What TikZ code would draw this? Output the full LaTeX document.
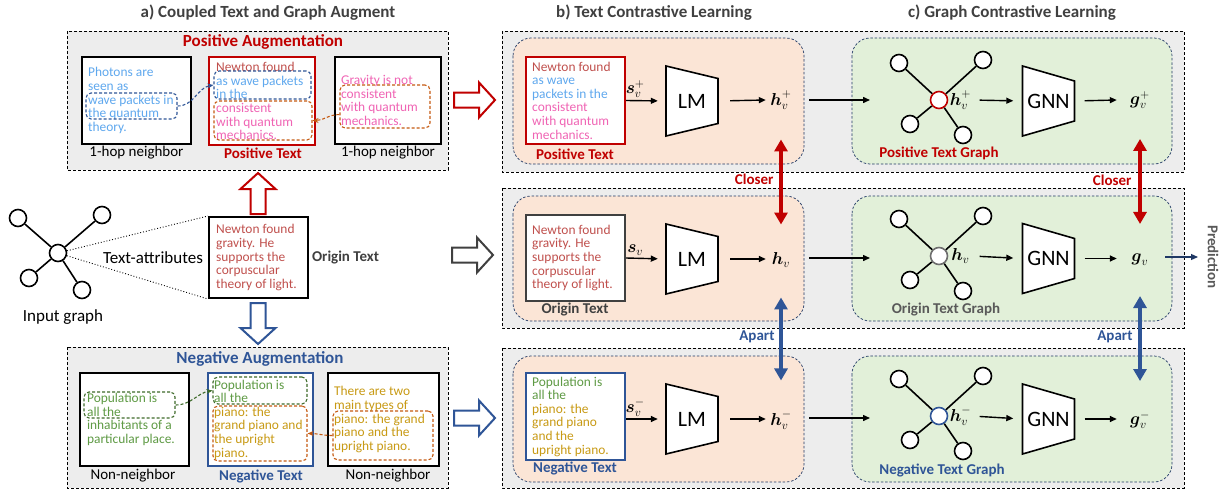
\documentclass[tikz,border=0pt]{standalone}
\usepackage{fontspec}
\setmainfont{Carlito}
\usepackage{amsmath}
\usetikzlibrary{arrows.meta}
\definecolor{cred}{HTML}{C00000}
\definecolor{cblue}{HTML}{2F5597}
\definecolor{cgray}{HTML}{404040}
\definecolor{cgray2}{HTML}{595959}
\definecolor{ngray}{HTML}{6E6E6E}
\definecolor{tbrown}{HTML}{C0504D}
\definecolor{tlblue}{HTML}{5FA8EE}
\definecolor{tpink}{HTML}{F064B4}
\definecolor{tgreen}{HTML}{5E9A44}
\definecolor{tgold}{HTML}{C89A14}
\definecolor{dgreen}{HTML}{3E6B2A}
\definecolor{dorange}{HTML}{C55A11}
\definecolor{navy}{HTML}{1F3864}
\definecolor{bgray}{HTML}{EDEDED}
\definecolor{peach}{HTML}{FBE5D6}
\definecolor{lgreen}{HTML}{E2F0D9}
\newcommand\hollowarr[3]{%
  \draw[draw=#3, fill=white, line width=2pt, line join=miter, shift={#1}, rotate=#2]
    (0,-7.5) -- (25,-7.5) -- (25,-17.5) -- (41,0) -- (25,17.5) -- (25,7.5) -- (0,7.5) -- cycle;}
\newcommand\trapz[4]{% center name, node name, text, right half height
  \draw[trap] ([shift={(-26,-35)}]#1) -- ([shift={(26,-#4)}]#1) -- ([shift={(26,#4)}]#1) -- ([shift={(-26,35)}]#1) -- cycle;
  \node[bigtxt, minimum width=52, minimum height=70] (#2) at (#1) {#3};}
\begin{document}
\begin{tikzpicture}[x=1pt,y=-1pt,
  outer/.style={draw=black, fill=bgray, dash pattern=on 3pt off 2pt, line width=0.9pt},
  inbox/.style={draw=navy, dash pattern=on 2.5pt off 1.8pt, line width=0.7pt, rounded corners=18pt},
  tbox/.style={draw, fill=white, rectangle, inner sep=0, line width=2.2pt},
  txtblk/.style={font=\fontsize{13.4}{13.6}\selectfont, align=left, inner sep=0, anchor=west},
  dbox/.style={draw, rectangle, dash pattern=on 3pt off 2pt, rounded corners=5pt, line width=1.1pt, inner sep=0},
  dconn/.style={dash pattern=on 3pt off 2pt, line width=1.1pt, -{Stealth[length=6pt,width=5pt]}},
  lbl/.style={font=\fontsize{15}{15}\selectfont},
  blbl/.style={font=\fontsize{15}{15}\selectfont\bfseries},
  ttl/.style={font=\fontsize{17}{17}\selectfont\bfseries, text=cgray},
  gnode/.style={circle, draw, line width=1.6pt, minimum size=17pt, inner sep=0, fill=white},
  gedge/.style={line width=1.6pt},
  conn/.style={-{Triangle[length=7pt,width=6pt]}, line width=1.4pt},
  mlbl/.style={font=\fontsize{17}{17}\selectfont, inner sep=0},
  bigtxt/.style={font=\fontsize{22}{22}\selectfont, inner sep=0},
  trap/.style={draw, fill=white, line width=1.6pt, line join=miter},
  closer/.style={{Triangle[length=12pt,width=13pt]}-{Triangle[length=12pt,width=13pt]}, line width=4pt}
]
\useasboundingbox (0,0) rectangle (1225,495);

% ---------- titles ----------
\node[ttl] (ta) at (268,13) {a) Coupled Text and Graph Augment};
\node[ttl] (tb) at (654,13) {b) Text Contrastive Learning};
\node[ttl] (tc) at (1012,13) {c) Graph Contrastive Learning};

% ---------- panel a: positive ----------
\draw[outer] (67,31) rectangle (448,170);
\node[ttl, text=cred] (posaug) at (263,42) {Positive Augmentation};

\node[tbox, minimum width=109, minimum height=87] (pn1) at (136.5,100.5) {};
\node[txtblk, text=tlblue] (pn1t) at ([xshift=7pt]pn1.west) {Photons are\\seen as\\wave packets in\\the quantum\\theory.};
\node[dbox, draw=cblue, minimum width=91, minimum height=26] (db1) at (131.5,106) {};
\node[lbl] (pn1l) at (136.5,153) {1-hop neighbor};

\node[tbox, draw=cred, line width=2pt, minimum width=106, minimum height=88] (pt) at (262,101) {};
\node[txtblk] (ptt) at ([xshift=8pt]pt.west) {\textcolor{tbrown}{Newton found}\\\textcolor{tlblue}{as wave packets}\\\textcolor{tlblue}{in the}\\\textcolor{tpink}{consistent}\\\textcolor{tpink}{with quantum}\\\textcolor{tpink}{mechanics.}};
\node[dbox, draw=cblue, minimum width=97, minimum height=28] (db2) at (262.5,85) {};
\node[dbox, draw=dorange, minimum width=98, minimum height=39] (do1) at (263,120.5) {};
\node[blbl, text=cred] (ptl) at (263,153) {Positive Text};

\node[tbox, minimum width=106, minimum height=87] (pn2) at (388,100.5) {};
\node[txtblk, text=tpink] (pn2t) at ([xshift=7pt]pn2.west) {Gravity is not\\consistent\\with quantum\\mechanics.};
\node[dbox, draw=dorange, minimum width=90, minimum height=43] (do2) at (385,106.5) {};
\node[lbl] (pn2l) at (388,153) {1-hop neighbor};

\draw[dconn, draw=cblue] (db1.east) to[out=0, in=190] (db2.west);
\draw[dconn, draw=dorange] (do2.190) to[out=180, in=0] (do1.east);

% ---------- panel a: input graph and origin ----------
\node[gnode] (ig) at (58,253) {};
\node[gnode] (ig1) at (18,218) {};
\node[gnode] (ig2) at (102,215) {};
\node[gnode] (ig3) at (29,278) {};
\node[gnode] (ig4) at (82,290) {};
\draw[gedge] (ig) -- (ig1) (ig) -- (ig2) (ig) -- (ig3) (ig) -- (ig4);
\node[font=\fontsize{17}{17}\selectfont] (igl) at (63,317) {Input graph};

\node[tbox, line width=2pt, minimum width=99, minimum height=81] (ot) at (258.5,257.5) {};
\node[txtblk, text=tbrown] (ott) at ([xshift=8pt]ot.west) {Newton found\\gravity. He\\supports the\\corpuscular\\theory of light.};
\draw[dotted, line width=0.9pt] (ig) -- (ot.north west);
\draw[dotted, line width=0.9pt] (ig) -- (ot.south west);
\node[font=\fontsize{17}{17}\selectfont] (tattr) at (153,258) {Text-attributes};
\node[blbl, text=cgray] (otl) at (345.5,258) {Origin Text};

\hollowarr{(258,214)}{90}{cred}
\hollowarr{(258,303)}{-90}{cblue}

% ---------- panel a: negative ----------
\draw[outer] (67,347) rectangle (448,488);
\node[ttl, text=cblue] (negaug) at (260,359) {Negative Augmentation};

\node[tbox, minimum width=109, minimum height=93] (nn1) at (134.5,419.5) {};
\node[txtblk, text=tgreen] (nn1t) at ([xshift=8pt]nn1.west) {Population is\\all the\\inhabitants of a\\particular place.};
\node[dbox, draw=dgreen, minimum width=91, minimum height=26] (dg1) at (129.5,405) {};
\node[lbl] (nn1l) at (133,476) {Non-neighbor};

\node[tbox, draw=cblue, line width=2pt, minimum width=105, minimum height=93] (nt) at (260.5,419.5) {};
\node[txtblk] (ntt) at ([xshift=7pt]nt.west) {\textcolor{tgreen}{Population is}\\\textcolor{tgreen}{all the}\\\textcolor{tgold}{piano: the}\\\textcolor{tgold}{grand piano and}\\\textcolor{tgold}{the upright}\\\textcolor{tgold}{piano.}};
\node[dbox, draw=dgreen, minimum width=94, minimum height=27] (dg2) at (260,390.5) {};
\node[dbox, draw=dorange, minimum width=94, minimum height=55] (dob1) at (260,433.5) {};
\node[blbl, text=cblue] (ntl) at (261,476) {Negative Text};

\node[tbox, minimum width=111, minimum height=93] (nn2) at (383.5,419.5) {};
\node[txtblk, text=tgold] (nn2t) at ([xshift=7pt]nn2.west) {There are two\\main types of\\piano: the grand\\piano and the\\upright piano.};
\node[dbox, draw=dorange, minimum width=100, minimum height=49] (dob2) at (383,435.5) {};
\node[lbl] (nn2l) at (388,476) {Non-neighbor};

\draw[dconn, draw=dgreen] (dg1.east) to[out=0, in=190] (dg2.west);
\draw[dconn, draw=dorange] (dob2.west) to[out=180, in=0] (dob1.east);

% ---------- transition arrows ----------
\hollowarr{(454,100)}{0}{cred}
\hollowarr{(452,255)}{0}{cgray}
\hollowarr{(454,418)}{0}{cblue}

% ---------- panels b/c outer boxes ----------
\draw[outer] (502,31) rectangle (1184,172);
\draw[outer] (502,188) rectangle (1184,328);
\draw[outer] (502,348) rectangle (1184,488);

\draw[inbox, fill=peach] (513,38) rectangle (804,164);
\draw[inbox, fill=lgreen] (852,38) rectangle (1172,164);
\draw[inbox, fill=peach] (513,196) rectangle (804,321);
\draw[inbox, fill=lgreen] (852,196) rectangle (1172,321);
\draw[inbox, fill=peach] (513,356) rectangle (804,482);
\draw[inbox, fill=lgreen] (852,356) rectangle (1172,482);

% ---------- row 1 ----------
\node[tbox, draw=cred, line width=2pt, minimum width=99, minimum height=87] (tb1) at (575.5,100.5) {};
\node[txtblk] (tb1t) at ([xshift=7pt]tb1.west) {\textcolor{tbrown}{Newton found}\\\textcolor{tlblue}{as wave}\\\textcolor{tlblue}{packets in the}\\\textcolor{tpink}{consistent}\\\textcolor{tpink}{with quantum}\\\textcolor{tpink}{mechanics.}};
\node[blbl, text=cred] (tb1l) at (575,154) {Positive Text};
\coordinate (lmc1) at (692,101);
\trapz{lmc1}{lm1}{LM}{22.5}
\node[mlbl, minimum width=30] (h1) at (781,100) {$\boldsymbol{h}_v^{+}$};
\draw[conn, shorten >=8pt] (tb1.east) -- node[mlbl, above=2pt, pos=0.23] (s1) {$\boldsymbol{s}_v^{+}$} (lm1.west);
\draw[conn, shorten <=12pt] (lm1.east) -- (h1.west);
\coordinate (gin1) at (870,100);
\draw[conn, shorten <=13pt] (h1.east) -- (gin1);
\node[gnode, draw=cred] (gc1) at (939,100) {};
\node[gnode] (ga1) at (899,63) {};
\node[gnode] (gb1) at (983,60) {};
\node[gnode] (gd1) at (910,124) {};
\node[gnode] (ge1) at (963,135) {};
\draw[gedge] (gc1) -- (ga1) (gc1) -- (gb1) (gc1) -- (gd1) (gc1) -- (ge1);
\node[mlbl, anchor=west, minimum width=22] (hg1) at ([xshift=1pt]gc1.east) {$\boldsymbol{h}_v^{+}$};
\coordinate (gnc1) at (1048.5,101);
\trapz{gnc1}{gnn1}{GNN}{20}
\node[mlbl, minimum width=46] (g1) at (1140,100) {$\boldsymbol{g}_v^{+}$};
\draw[conn, shorten <=8pt, shorten >=9pt] (hg1.east) -- (gnn1.west);
\draw[conn, shorten <=10pt] (gnn1.east) -- (g1.west);
\node[blbl, text=cred] (gl1) at (939,153) {Positive Text Graph};

% ---------- row 2 ----------
\node[tbox, draw=cgray, line width=2pt, minimum width=99, minimum height=86] (tb2) at (575.5,258) {};
\node[txtblk, text=tbrown] (tb2t) at ([xshift=7pt]tb2.west) {Newton found\\gravity. He\\supports the\\corpuscular\\theory of light.};
\node[blbl, text=cgray] (tb2l) at (575,310) {Origin Text};
\coordinate (lmc2) at (692,259);
\trapz{lmc2}{lm2}{LM}{22.5}
\node[mlbl, minimum width=30] (h2) at (781,260) {$\boldsymbol{h}_v$};
\draw[conn, shorten >=8pt] (tb2.east) -- node[mlbl, above=2pt, pos=0.23] (s2) {$\boldsymbol{s}_v$} (lm2.west);
\draw[conn, shorten <=12pt] (lm2.east) -- (h2.west |- lm2.east);
\coordinate (gin2) at (870,258);
\draw[conn, shorten <=13pt] (h2.east |- gin2) -- (gin2);
\node[gnode, draw=ngray] (gc2) at (939,256) {};
\node[gnode] (ga2) at (899,219) {};
\node[gnode] (gb2) at (983,216) {};
\node[gnode] (gd2) at (910,280) {};
\node[gnode] (ge2) at (963,291) {};
\draw[gedge] (gc2) -- (ga2) (gc2) -- (gb2) (gc2) -- (gd2) (gc2) -- (ge2);
\node[mlbl, anchor=west, minimum width=22] (hg2) at ([xshift=1pt]gc2.east) {$\boldsymbol{h}_v$};
\coordinate (gnc2) at (1048.5,258.5);
\trapz{gnc2}{gnn2}{GNN}{20}
\node[mlbl, minimum width=46] (g2) at (1140,260) {$\boldsymbol{g}_v$};
\draw[conn, shorten <=8pt, shorten >=9pt] (hg2.east) -- (gnn2.west);
\draw[conn, shorten <=10pt] (gnn2.east) -- (g2.west |- gnn2.east);
\node[blbl, text=cgray2] (gl2) at (946,310) {Origin Text Graph};
\coordinate (predtip) at (1198,257);
\draw[conn, draw=navy, fill=navy, line width=1.2pt, shorten <=2pt] (g2.east |- predtip) -- (predtip);
\node[blbl, text=cgray2, rotate=-90] (pred) at (1213,257) {Prediction};

% ---------- row 3 ----------
\node[tbox, draw=cblue, line width=2pt, minimum width=99, minimum height=87] (tb3) at (575.5,416.5) {};
\node[txtblk] (tb3t) at ([xshift=7pt]tb3.west) {\textcolor{tgreen}{Population is}\\\textcolor{tgreen}{all the}\\\textcolor{tgold}{piano: the}\\\textcolor{tgold}{grand piano}\\\textcolor{tgold}{and the}\\\textcolor{tgold}{upright piano.}};
\node[blbl, text=cblue] (tb3l) at (575,468) {Negative Text};
\coordinate (lmc3) at (692,419);
\trapz{lmc3}{lm3}{LM}{22.5}
\node[mlbl, minimum width=30] (h3) at (781,420) {$\boldsymbol{h}_v^{-}$};
\draw[conn, shorten >=8pt] (tb3.east |- lm3.west) -- node[mlbl, above=2pt, pos=0.23] (s3) {$\boldsymbol{s}_v^{-}$} (lm3.west);
\draw[conn, shorten <=12pt] (lm3.east) -- (h3.west |- lm3.east);
\coordinate (gin3) at (870,418);
\draw[conn, shorten <=13pt] (h3.east |- gin3) -- (gin3);
\node[gnode, draw=cblue] (gc3) at (939,416) {};
\node[gnode] (ga3) at (899,379) {};
\node[gnode] (gb3) at (983,376) {};
\node[gnode] (gd3) at (910,440) {};
\node[gnode] (ge3) at (963,451) {};
\draw[gedge] (gc3) -- (ga3) (gc3) -- (gb3) (gc3) -- (gd3) (gc3) -- (ge3);
\node[mlbl, anchor=west, minimum width=22] (hg3) at ([xshift=1pt]gc3.east) {$\boldsymbol{h}_v^{-}$};
\coordinate (gnc3) at (1048.5,419);
\trapz{gnc3}{gnn3}{GNN}{20}
\node[mlbl, minimum width=46] (g3) at (1140,420) {$\boldsymbol{g}_v^{-}$};
\draw[conn, shorten <=8pt, shorten >=9pt] (hg3.east) -- (gnn3.west);
\draw[conn, shorten <=10pt] (gnn3.east) -- (g3.west |- gnn3.east);
\node[blbl, text=cblue] (gl3) at (942,470) {Negative Text Graph};

% ---------- closer / apart ----------
\draw[closer, draw=cred, fill=cred, shorten <=30pt, shorten >=28pt] (h1) -- (h2);
\draw[closer, draw=cred, fill=cred, shorten <=30pt, shorten >=30pt] (g1) -- (g2);
\draw[closer, draw=cblue, fill=cblue, shorten <=30pt, shorten >=30pt] (h2) -- (h3);
\draw[closer, draw=cblue, fill=cblue, shorten <=30pt, shorten >=30pt] (g2) -- (g3);
\node[blbl, text=cred, anchor=east] (cl1) at (777,179) {Closer};
\node[blbl, text=cred, anchor=east] (cl2) at (1135,180) {Closer};
\node[blbl, text=cblue, anchor=east] (ap1) at (778,337) {Apart};
\node[blbl, text=cblue, anchor=east] (ap2) at (1136,337) {Apart};
\end{tikzpicture}
\end{document}
